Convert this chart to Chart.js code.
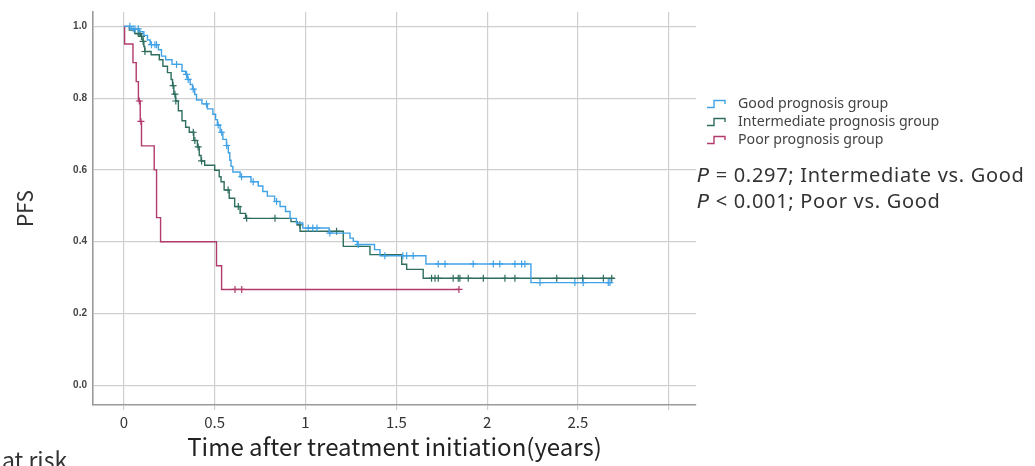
<!DOCTYPE html>
<html>
<head>
<meta charset="utf-8">
<script src="https://cdn.jsdelivr.net/npm/chart.js@4.4.1/dist/chart.umd.min.js"></script>
<style>
  html, body { margin: 0; padding: 0; background: #fff; }
  #wrap { position: relative; width: 1035px; height: 466px; overflow: hidden; }
  #km { position: absolute; left: 0; top: 0; }
  .legend { position: absolute; left: 706px; top: 94px; font: 14.2px "Noto Sans", sans-serif; color: #444; }
  .legend div { height: 18px; line-height: 18px; white-space: nowrap; }
  .legend svg { vertical-align: -1px; margin-right: 10px; }
  .pval { position: absolute; left: 697px; top: 162px; font: 20px "Noto Sans", sans-serif; color: #333; line-height: 26px; white-space: nowrap; letter-spacing: 0.7px; }
  .pval i { font-family: "DejaVu Sans", sans-serif; font-style: oblique; font-weight: 300; }
  .risk { position: absolute; left: 2px; top: 448px; font: 23px "Noto Sans CJK JP", "Noto Sans", sans-serif; color: #333; line-height: 1; }
</style>
</head>
<body>
<div id="wrap">
  <canvas id="km" width="1035" height="466"></canvas>
  <div class="legend" id="legend"></div>
  <div class="pval">
    <div><i>P</i> = 0.297; Intermediate vs. Good</div>
    <div><i>P</i> &lt; 0.001; Poor vs. Good</div>
  </div>
  <div class="risk">at risk</div>
</div>
<script>
// Kaplan-Meier steps (time in years, PFS)
const groupNames = ['Good prognosis group', 'Intermediate prognosis group', 'Poor prognosis group'];
const groupColors = ['#41a2e6', '#2f6e5f', '#b23a6c'];

const goodT = [0, 0.04, 0.085, 0.11, 0.13, 0.145, 0.19, 0.207, 0.23, 0.265, 0.32, 0.34, 0.35, 0.365, 0.378, 0.39, 0.40,
  0.43, 0.46, 0.49, 0.505, 0.515, 0.53, 0.545, 0.565, 0.575, 0.583, 0.59, 0.60, 0.64, 0.70, 0.74, 0.765, 0.79,
  0.83, 0.86, 0.89, 0.915, 0.95, 0.985, 1.13, 1.245, 1.263, 1.285, 1.38, 1.41, 1.663, 2.241, 2.685];
const goodS = [1.0, 0.993, 0.985, 0.975, 0.962, 0.949, 0.935, 0.917, 0.907, 0.894, 0.875, 0.866, 0.852, 0.838, 0.825, 0.81, 0.795,
  0.784, 0.77, 0.755, 0.74, 0.725, 0.705, 0.685, 0.668, 0.648, 0.627, 0.61, 0.594, 0.581, 0.567, 0.555, 0.54, 0.527,
  0.512, 0.498, 0.484, 0.465, 0.452, 0.438, 0.424, 0.41, 0.401, 0.392, 0.378, 0.361, 0.338, 0.286, 0.286];
const goodCensor = [0.033, 0.051, 0.061, 0.079, 0.152, 0.171, 0.18, 0.29, 0.345, 0.354, 0.382, 0.455, 0.519, 0.538, 0.566,
  0.648, 0.712, 0.841, 1.015, 1.04, 1.063, 1.134, 1.29, 1.437, 1.536, 1.557, 1.593, 1.731, 1.768, 1.923, 2.034,
  2.07, 2.153, 2.19, 2.208, 2.291, 2.483, 2.529, 2.667, 2.676];

const interT = [0, 0.03, 0.06, 0.09, 0.105, 0.11, 0.115, 0.15, 0.195, 0.215, 0.24, 0.26, 0.268, 0.275, 0.285, 0.30, 0.32,
  0.34, 0.36, 0.385, 0.405, 0.415, 0.425, 0.445, 0.50, 0.525, 0.535, 0.552, 0.58, 0.61, 0.64, 0.67, 0.92, 0.955,
  0.97, 1.208, 1.355, 1.53, 1.557, 1.648, 2.70];
const interS = [1.0, 0.99, 0.98, 0.972, 0.958, 0.944, 0.93, 0.921, 0.907, 0.889, 0.871, 0.852, 0.835, 0.811, 0.792, 0.765, 0.737,
  0.719, 0.705, 0.682, 0.664, 0.64, 0.625, 0.613, 0.599, 0.581, 0.567, 0.544, 0.521, 0.498, 0.479, 0.465, 0.456, 0.447,
  0.429, 0.387, 0.364, 0.337, 0.323, 0.298, 0.298];
const interCensor = [0.079, 0.088, 0.097, 0.106, 0.116, 0.271, 0.281, 0.286, 0.382, 0.391, 0.409, 0.428, 0.574, 0.63,
  0.676, 0.832, 0.969, 1.171, 1.694, 1.713, 1.731, 1.813, 1.841, 1.85, 1.896, 1.979, 2.098, 2.153, 2.383, 2.526,
  2.64, 2.686];

const poorT = [0, 0.004, 0.05, 0.068, 0.08, 0.09, 0.097, 0.167, 0.18, 0.202, 0.51, 0.538, 1.845];
const poorS = [1.0, 0.951, 0.899, 0.846, 0.792, 0.735, 0.667, 0.600, 0.467, 0.400, 0.333, 0.267, 0.267];
const poorCensor = [0.085, 0.094, 0.612, 0.649, 1.845];

const xTicks = [0, 0.5, 1, 1.5, 2, 2.5, 3];
const xTickLabels = ['0', '0.5', '1', '1.5', '2', '2.5', ''];
const yTicks = [0, 0.2, 0.4, 0.6, 0.8, 1.0];
const yTickLabels = ['0.0', '0.2', '0.4', '0.6', '0.8', '1.0'];

function survAt(T, S, t) {
  let s = S[0];
  for (let i = 0; i < T.length; i++) {
    if (T[i] <= t + 1e-9) s = S[i];
  }
  return s;
}

const curves = [[goodT, goodS, goodCensor], [interT, interS, interCensor], [poorT, poorS, poorCensor]];
const datasets = [];
curves.forEach(([T, S, C], g) => {
  datasets.push({
    label: groupNames[g],
    data: T.map((t, i) => ({ x: t, y: S[i] })),
    borderColor: groupColors[g],
    borderWidth: 1.4,
    stepped: 'before',
    pointRadius: 0,
    fill: false
  });
  datasets.push({
    label: groupNames[g] + ' censored',
    type: 'scatter',
    data: C.map(t => ({ x: t, y: survAt(T, S, t) })),
    pointStyle: 'cross',
    pointRadius: 3.5,
    borderColor: groupColors[g],
    borderWidth: 1.2,
    showLine: false
  });
});

// legend with step-shaped keys
const legend = document.getElementById('legend');
groupNames.forEach((name, g) => {
  const row = document.createElement('div');
  row.innerHTML = '<svg width="22" height="11"><path d="M1 9.5 H8 V2.5 H19 V6" fill="none" stroke="' +
    groupColors[g] + '" stroke-width="1.4"/></svg>' + name;
  legend.appendChild(row);
});

new Chart(document.getElementById('km'), {
  type: 'line',
  data: { datasets: datasets },
  options: {
    responsive: false,
    animation: false,
    layout: { padding: { top: 7, right: 339, bottom: 0, left: 0 } },
    plugins: { legend: { display: false }, tooltip: { enabled: false } },
    scales: {
      x: {
        type: 'linear',
        min: -0.17,
        max: 3.15,
        afterBuildTicks: s => { s.ticks = xTicks.map(v => ({ value: v })); },
        afterFit: s => { s.height = 61; },
        ticks: {
          autoSkip: false,
          maxRotation: 0,
          padding: 3,
          color: '#333',
          font: { family: '"Noto Sans CJK JP", "Noto Sans", sans-serif', size: 15 },
          callback: (v, i) => xTickLabels[i]
        },
        grid: { color: '#cfcfcf', lineWidth: 1.2, tickLength: 5 },
        border: { color: '#9a9a9a', width: 1.6 },
        title: {
          display: true,
          text: 'Time after treatment initiation(years)',
          color: '#222',
          font: { family: '"Noto Sans CJK JP", "Noto Sans", sans-serif', size: 24 },
          padding: { top: 0, bottom: 5 }
        }
      },
      y: {
        type: 'linear',
        min: -0.055,
        max: 1.04,
        afterBuildTicks: s => { s.ticks = yTicks.map(v => ({ value: v })); },
        afterFit: s => { s.width = 93; },
        ticks: {
          padding: 6,
          color: '#444',
          font: { family: '"Liberation Sans", Arial, sans-serif', size: 10, weight: 'bold' },
          callback: (v, i) => yTickLabels[i]
        },
        grid: { color: '#cfcfcf', lineWidth: 1.2, tickLength: 0 },
        border: { color: '#9a9a9a', width: 1.6 },
        title: {
          display: true,
          text: 'PFS',
          color: '#333',
          font: { family: '"Noto Sans CJK JP", "Noto Sans", sans-serif', size: 21 },
          padding: { top: 12, bottom: 0 }
        }
      }
    }
  }
});
</script>
</body>
</html>
